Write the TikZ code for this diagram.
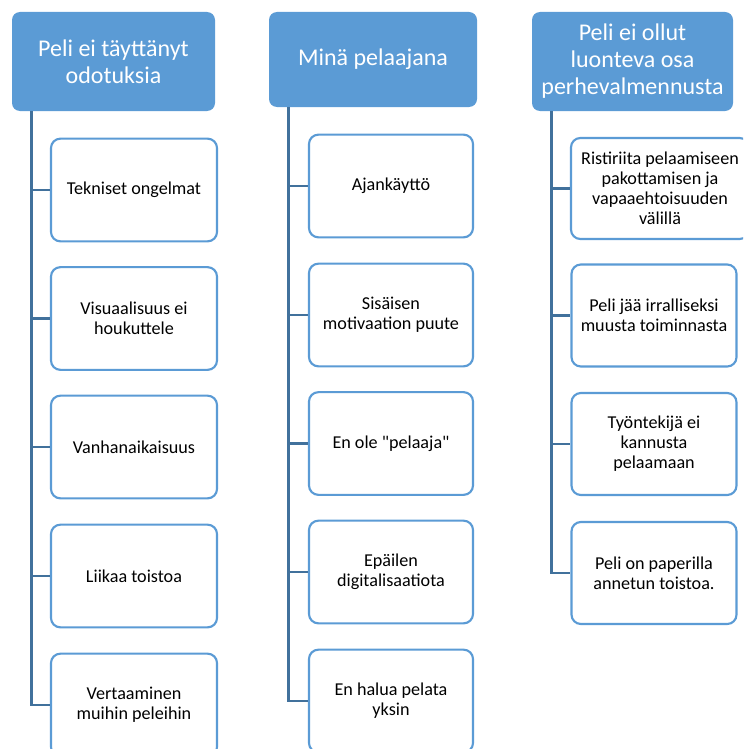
\documentclass[tikz,border=0pt]{standalone}
\usepackage{fontspec}
\newfontfamily\boxfont{Carlito}
\definecolor{headblue}{RGB}{91, 155, 213}
\definecolor{lineblue}{RGB}{65, 113, 156}
\usetikzlibrary{positioning, calc}

\begin{document}
\begin{tikzpicture}[x=0.75pt, y=-0.75pt,
  head/.style={fill=headblue, rounded corners=6pt, text=white, align=center, inner sep=0pt, font=\boxfont\fontsize{18}{20.25}\selectfont},
  item/.style={draw=headblue, line width=1.6pt, fill=white, rounded corners=7pt, align=center, inner sep=0pt, minimum height=77pt, minimum width=123.75pt, font=\boxfont\fontsize{13.6}{15}\selectfont},
  link/.style={draw=lineblue, line width=2pt}]
  \clip (0,0) rectangle (743,749);

  % headers
  \node[head, minimum width=152.25pt, minimum height=74.25pt] (h1) at (113.5,61.5) {Peli ei täyttänyt\\odotuksia};
  \node[head, minimum width=156pt, minimum height=71.25pt] (h2) at (373,59.5) {Minä pelaajana};
  \node[head, minimum width=150.75pt, minimum height=74.25pt] (h3) at (632.5,61.5) {Peli ei ollut\\luonteva osa\\perhevalmennusta};

  % first column
  \node[item, minimum width=124.5pt] (a1) at (134,190) {Tekniset ongelmat};
  \node[item, minimum width=124.5pt] (a2) at (134,318.5) {Visuaalisuus ei\\houkuttele};
  \node[item, minimum width=124.5pt] (a3) at (134,447) {Vanhanaikaisuus};
  \node[item, minimum width=124.5pt] (a4) at (134,576) {Liikaa toistoa};
  \node[item, minimum width=124.5pt] (a5) at (134,705) {Vertaaminen\\muihin peleihin};

  % second column
  \node[item, minimum width=123pt] (b1) at (391,186) {Ajankäyttö};
  \node[item, minimum width=123pt] (b2) at (391,315) {Sisäisen\\motivaation puute};
  \node[item, minimum width=123pt] (b3) at (391,443.5) {En ole "pelaaja"};
  \node[item, minimum width=123pt] (b4) at (391,572) {Epäilen\\digitalisaatiota};
  \node[item, minimum width=123pt] (b5) at (391,701) {En halua pelata\\yksin};

  % third column
  \node[item, minimum width=133.5pt, minimum height=75.75pt] (c1) at (660,188.5) {Ristiriita pelaamiseen\\pakottamisen ja\\vapaaehtoisuuden\\välillä};
  \node[item, minimum height=76.5pt] (c2) at (654,315.5) {Peli jää irralliseksi\\muusta toiminnasta};
  \node[item, minimum height=76.5pt] (c3) at (654,444) {Työntekijä ei\\kannusta\\pelaamaan};
  \node[item, minimum height=76.5pt] (c4) at (654,573) {Peli on paperilla\\annetun toistoa.};

  % connectors
  \coordinate (t1) at ($(h1.south west)+(20,0)$);
  \coordinate (t2) at ($(h2.south west)+(20,0)$);
  \coordinate (t3) at ($(h3.south west)+(20,0)$);
  \foreach \k in {1,...,5} \draw[link] (t1) |- (a\k.west);
  \foreach \k in {1,...,5} \draw[link] (t2) |- (b\k.west);
  \foreach \k in {1,...,4} \draw[link] (t3) |- (c\k.west);
\end{tikzpicture}
\end{document}
